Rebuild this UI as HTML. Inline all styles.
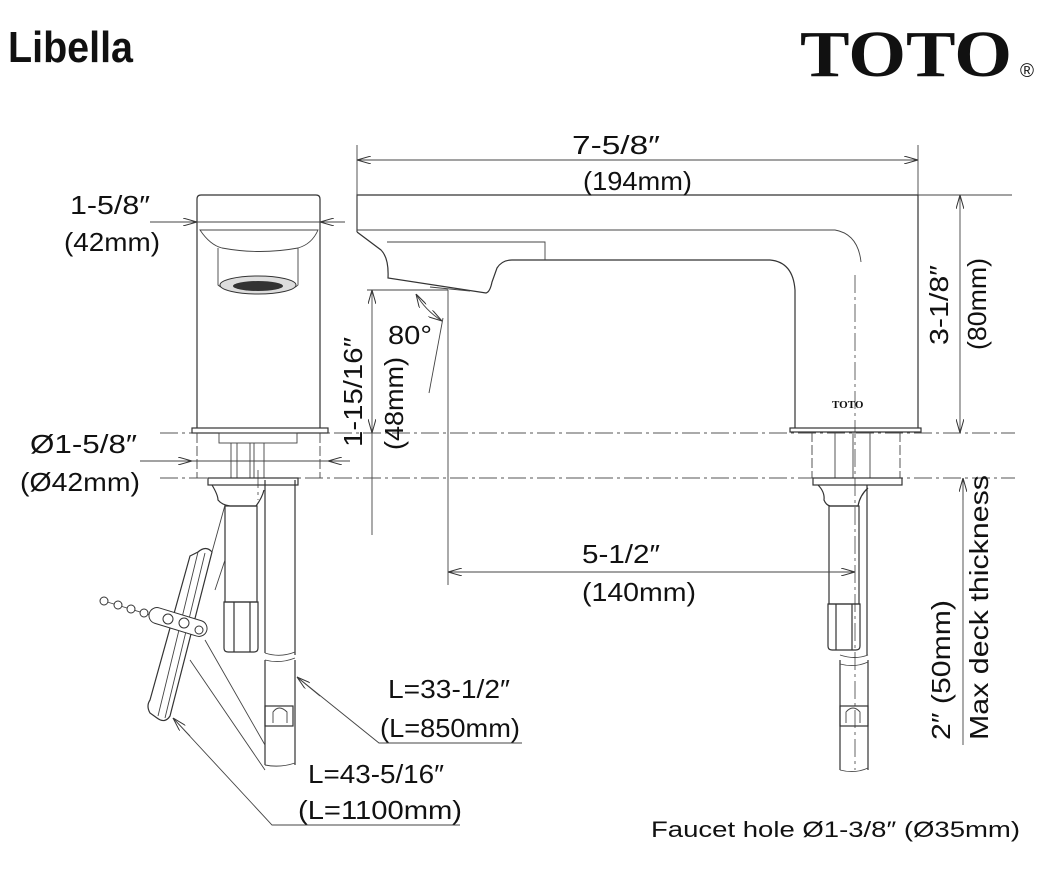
<!DOCTYPE html>
<html><head><meta charset="utf-8"><style>
html,body{margin:0;padding:0;background:#fff;}
svg{display:block;}
text{font-family:"Liberation Sans",sans-serif;fill:#111;}
.l{fill:none;stroke:#333;stroke-width:1.2;}
.t{fill:none;stroke:#444;stroke-width:0.9;}
.c{fill:none;stroke:#555;stroke-width:0.9;stroke-dasharray:18 4 3 4;}
.d{font-size:26px;}
</style></head><body>
<svg width="1048" height="884" viewBox="0 0 1048 884" xmlns="http://www.w3.org/2000/svg">
<defs>
<marker id="a" viewBox="0 0 14 8" refX="14" refY="4" markerWidth="14" markerHeight="8" orient="auto-start-reverse" markerUnits="userSpaceOnUse">
<path d="M0 0 L14 4 L0 8" fill="none" stroke="#333" stroke-width="1"/></marker>
</defs>
<text x="8" y="62" font-size="44" font-weight="bold" textLength="125" lengthAdjust="spacingAndGlyphs">Libella</text>
<text x="800" y="76" font-size="66" font-weight="bold" style="font-family:'Liberation Serif',serif" textLength="212" lengthAdjust="spacingAndGlyphs">TOTO</text>
<text x="1020" y="77" font-size="19">®</text>

<!-- centerlines -->
<line class="c" x1="160" y1="433" x2="1015" y2="433"/>
<line class="c" x1="160" y1="478" x2="1015" y2="478"/>
<line class="c" x1="855" y1="275" x2="855" y2="770"/>
<line class="c" x1="258" y1="470" x2="258" y2="500"/>

<!-- LEFT front view -->
<path class="l" d="M197 428 V199 Q197 195 201 195 H316 Q320 195 320 199 V428"/>
<path class="t" d="M200 230 Q210 245 222 248 Q260 255 298 248 Q312 244 318 230 Z"/>
<path class="t" d="M218 248 V285 Q225 292 258 292 Q292 292 298 285 V248"/>
<ellipse cx="258" cy="285" rx="38" ry="9" fill="#ddd" stroke="#333" stroke-width="1"/>
<ellipse cx="258" cy="286" rx="25" ry="5" fill="#333"/>
<rect class="l" x="192" y="428" width="136" height="5"/>
<path class="t" d="M197 433 V478 M320 433 V478" stroke-dasharray="10 3"/>
<rect class="t" x="219" y="433" width="78" height="10"/>
<path class="t" d="M231 443 V478 M237 443 V478 M250 443 V478 M254 443 V478 M264 443 V478"/>
<rect class="l" x="208" y="478" width="90" height="7"/>
<path class="l" d="M212 485 Q218 495 218 500 Q222 505 230 506 H256 Q262 498 264 490"/>
<rect class="l" x="225" y="506" width="32" height="96"/>
<path class="l" d="M224 602 H258 V648 Q258 652 254 652 H228 Q224 652 224 648 Z M234 602 V652 M250 602 V652"/>
<path class="l" d="M265 480 V653 M295 480 V655 M265 660 V765 M295 660 V765"/>
<path class="t" d="M265 653 Q280 658 295 652 M265 660 Q280 664 295 658 M265 765 Q280 768 295 763"/>
<rect class="l" x="265" y="706" width="28" height="20"/>
<path class="t" d="M273 723 V712 Q279 704 287 712 V723"/>
<!-- sensor ribbon -->
<path class="l" d="M198 552 Q206 545 212 552 L170 716 Q165 724 157 718 L150 713 Q146 706 150 700 L190 556 Z"/>
<path class="t" d="M198 552 L158 716 M205 553 L165 718"/>
<path class="t" d="M225 505 L212 552 M225 560 L215 590"/>
<!-- chain -->
<line class="t" x1="104" y1="601" x2="150" y2="615"/>
<g fill="#fff" stroke="#333" stroke-width="1">
<circle cx="104" cy="601" r="4"/><circle cx="118" cy="605" r="4"/><circle cx="131" cy="609" r="4"/><circle cx="144" cy="613" r="4"/>
<rect x="148" y="614" width="60" height="16" rx="8" transform="rotate(17 178 622)"/>
<circle cx="168" cy="619" r="5"/><circle cx="184" cy="623" r="5"/><circle cx="199" cy="630" r="4"/>
</g>
<path class="t" d="M205 640 L265 745 M190 660 L265 770"/>

<!-- 1-5/8 dim -->
<line class="t" x1="150" y1="222" x2="197" y2="222" marker-end="url(#a)"/>
<line class="t" x1="345" y1="222" x2="320" y2="222" marker-end="url(#a)"/>
<line class="t" x1="197" y1="222" x2="320" y2="222"/>
<text class="d" x="70" y="214" textLength="80" lengthAdjust="spacingAndGlyphs">1-5/8″</text>
<text class="d" x="64" y="251" textLength="96" lengthAdjust="spacingAndGlyphs">(42mm)</text>
<!-- Ø1-5/8 -->
<line class="t" x1="140" y1="461" x2="192" y2="461" marker-end="url(#a)"/>
<line class="t" x1="350" y1="461" x2="328" y2="461" marker-end="url(#a)"/>
<line class="t" x1="192" y1="461" x2="328" y2="461"/>
<text class="d" x="30" y="453" textLength="107" lengthAdjust="spacingAndGlyphs">Ø1-5/8″</text>
<text class="d" x="20" y="491" textLength="120" lengthAdjust="spacingAndGlyphs">(Ø42mm)</text>

<!-- SIDE view -->
<path class="l" d="M357 232 V195 H918 V428"/>
<path class="t" d="M357 230 H835 Q858 234 861 262"/>
<path class="l" d="M357 232 L381 250 Q389 258 388 278 L486 293 Q490 292 492 282 L497 268 Q502 260 512 260 H770 Q793 262 795 290 V428"/>
<path class="t" d="M387 242 H545 V260 M430 287 L470 291"/>
<rect class="l" x="790" y="428" width="131" height="4"/>
<path class="t" d="M812 432 V478 M900 432 V478" stroke-dasharray="10 3"/>
<path class="t" d="M835 432 V478 M853 432 V478 M870 432 V478"/>
<rect class="l" x="813" y="478" width="89" height="7"/>
<path class="l" d="M818 485 Q825 492 824 500 Q826 505 830 506 H858 Q860 495 868 488"/>
<rect class="l" x="829" y="506" width="30" height="98"/>
<path class="l" d="M828 604 H860 V646 Q860 650 856 650 H832 Q828 650 828 646 Z M836 604 V650 M852 604 V650"/>
<path class="l" d="M867 485 V655 M840 660 V770 M868 660 V770"/>
<path class="t" d="M840 655 Q855 660 868 655 M840 664 Q855 668 868 662 M840 770 Q855 774 868 768"/>
<rect class="l" x="840" y="706" width="28" height="20"/>
<path class="t" d="M846 723 V712 Q853 704 860 712 V723"/>
<text x="832" y="408" font-size="11" font-weight="bold" style="font-family:'Liberation Serif',serif">TOTO</text>

<!-- 7-5/8 -->
<path class="t" d="M357 145 V232 M918 145 V195"/>
<line class="t" x1="357" y1="160" x2="918" y2="160" marker-start="url(#a)" marker-end="url(#a)"/>
<text class="d" x="572" y="154" textLength="88" lengthAdjust="spacingAndGlyphs">7-5/8″</text>
<text class="d" x="583" y="190" textLength="109" lengthAdjust="spacingAndGlyphs">(194mm)</text>
<!-- 3-1/8 -->
<path class="t" d="M918 195 H1012"/>
<line class="t" x1="960" y1="195" x2="960" y2="433" marker-start="url(#a)" marker-end="url(#a)"/>
<text class="d" transform="translate(948 345) rotate(-90)" textLength="80" lengthAdjust="spacingAndGlyphs">3-1/8″</text>
<text class="d" transform="translate(986 350) rotate(-90)" textLength="92" lengthAdjust="spacingAndGlyphs">(80mm)</text>
<!-- deck -->
<line class="t" x1="963" y1="478" x2="963" y2="745"/>
<line class="t" x1="963" y1="500" x2="963" y2="478" marker-end="url(#a)"/>
<text class="d" transform="translate(950 740) rotate(-90)" textLength="140" lengthAdjust="spacingAndGlyphs">2″ (50mm)</text>
<text class="d" transform="translate(988 740) rotate(-90)" textLength="265" lengthAdjust="spacingAndGlyphs">Max deck thickness</text>
<!-- 1-15/16 -->
<path class="t" d="M367 290 H448 M448 290 V585"/>
<line class="t" x1="372" y1="290" x2="372" y2="433" marker-start="url(#a)" marker-end="url(#a)"/>
<line class="t" x1="372" y1="433" x2="372" y2="535"/>
<text class="d" transform="translate(362 447) rotate(-90)" textLength="110" lengthAdjust="spacingAndGlyphs">1-15/16″</text>
<text class="d" transform="translate(403 450) rotate(-90)" textLength="93" lengthAdjust="spacingAndGlyphs">(48mm)</text>
<path class="t" d="M443 318 L429 393"/>
<path class="t" d="M416 294 Q425 310 442 321" marker-start="url(#a)" marker-end="url(#a)"/>
<text class="d" x="388" y="344" textLength="44" lengthAdjust="spacingAndGlyphs">80°</text>
<!-- 5-1/2 -->
<line class="t" x1="448" y1="572" x2="855" y2="572" marker-start="url(#a)" marker-end="url(#a)"/>
<text class="d" x="582" y="563" textLength="78" lengthAdjust="spacingAndGlyphs">5-1/2″</text>
<text class="d" x="582" y="601" textLength="114" lengthAdjust="spacingAndGlyphs">(140mm)</text>
<!-- L labels -->
<path class="t" d="M522 743 H379 L297 677"/>
<line class="t" x1="320" y1="696" x2="297" y2="677" marker-end="url(#a)"/>
<text class="d" x="388" y="698" textLength="122" lengthAdjust="spacingAndGlyphs">L=33-1/2″</text>
<text class="d" x="380" y="737" textLength="140" lengthAdjust="spacingAndGlyphs">(L=850mm)</text>
<path class="t" d="M460 825 H272 L173 718"/>
<line class="t" x1="190" y1="736" x2="173" y2="718" marker-end="url(#a)"/>
<text class="d" x="308" y="783" textLength="136" lengthAdjust="spacingAndGlyphs">L=43-5/16″</text>
<text class="d" x="298" y="819" textLength="164" lengthAdjust="spacingAndGlyphs">(L=1100mm)</text>
<text x="651" y="837" font-size="22" textLength="369" lengthAdjust="spacingAndGlyphs">Faucet hole Ø1-3/8″ (Ø35mm)</text>
</svg>
</body></html>
